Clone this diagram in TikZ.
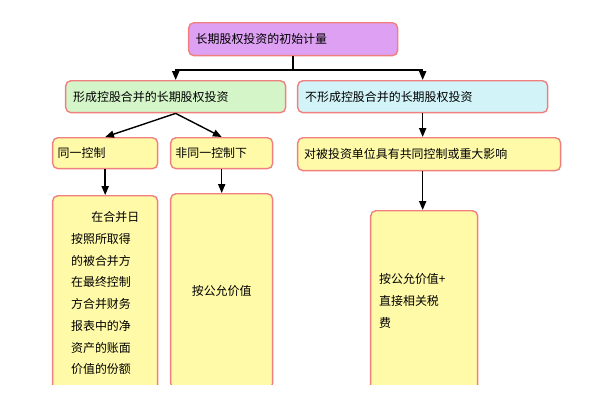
\documentclass[tikz,border=0pt]{standalone}
\usepackage{fontspec}
\newfontfamily\cjk{Noto Sans CJK SC}
\usetikzlibrary{positioning,arrows.meta}
\definecolor{topfill}{HTML}{DDA0F2}
\definecolor{greenfill}{HTML}{D4F5C8}
\definecolor{cyanfill}{HTML}{D2F4F8}
\definecolor{yellowfill}{HTML}{FFFAA8}
\definecolor{boxline}{HTML}{F08080}
\tikzset{
    box/.style={draw=boxline, thick, rounded corners=3pt, inner sep=2pt, font=\cjk\fontsize{6.8}{12.4}\selectfont},
    arr/.style={-{Triangle[length=5pt,width=4pt]}, thick}
}
\begin{document}
\begin{tikzpicture}[x=0.02cm,y=-0.02cm]
    \useasboundingbox (0,0) rectangle (600,400);
    \begin{scope}
    \clip (0,0) rectangle (600,384);
    \node (top) [box, fill=topfill, minimum width=4.18cm, minimum height=0.66cm, anchor=north west, align=left, text width=3.9cm] at (188,22) {长期股权投资的初始计量};
    \node (form) [box, fill=greenfill, minimum width=4.4cm, minimum height=0.64cm, anchor=north west, text width=4.1cm] at (65,80) {形成控股合并的长期股权投资};
    \node (nform) [box, fill=cyanfill, minimum width=5cm, minimum height=0.64cm, anchor=north west, text width=4.7cm] at (297,80) {不形成控股合并的长期股权投资};
    \node (same) [box, fill=yellowfill, minimum width=2.1cm, minimum height=0.62cm, anchor=north west, text width=1.9cm] at (52,137) {同一控制};
    \node (diff) [box, fill=yellowfill, minimum width=2.04cm, minimum height=0.62cm, anchor=north west, text width=1.85cm] at (170,137) {非同一控制下};
    \node (joint) [box, fill=yellowfill, minimum width=5.26cm, minimum height=0.66cm, anchor=north west, text width=5cm] at (297,137) {对被投资单位具有共同控制或重大影响};
    \node (sameval) [box, fill=yellowfill, minimum width=2.1cm, minimum height=3.9cm, anchor=north west, align=left] at (52,195) {\hspace*{1.7em}在合并日\\按照所取得\\的被合并方\\在最终控制\\方合并财务\\报表中的净\\资产的账面\\价值的份额};
    \node (diffval) [box, fill=yellowfill, minimum width=2.04cm, minimum height=3.9cm, anchor=north west, text width=1.85cm, align=center] at (170,193) {按公允价值};
    \node (jointval) [box, fill=yellowfill, minimum width=2.14cm, minimum height=3.6cm, anchor=north west, text width=1.8cm, align=left] at (370,210) {按公允价值+\\直接相关税\\费};
    \end{scope}
    % connectors
    \coordinate (split) at (top.south |- 0,70);
    \draw[thick] (top.south) -- (split);
    \draw[arr] (split) -| (form.north);
    \draw[arr] (split) -| (nform.north);
    \draw[arr] (form.south) -- (same.north);
    \draw[arr] (form.south) -- (diff.north);
    \draw[arr] (nform.south) -- (nform.south |- joint.north);
    \draw[arr] (same.south) -- (sameval.north);
    \draw[arr] (diff.south) -- (diffval.north);
    \draw[arr] (nform.south |- joint.south) -- (nform.south |- jointval.north);
\end{tikzpicture}
\end{document}
